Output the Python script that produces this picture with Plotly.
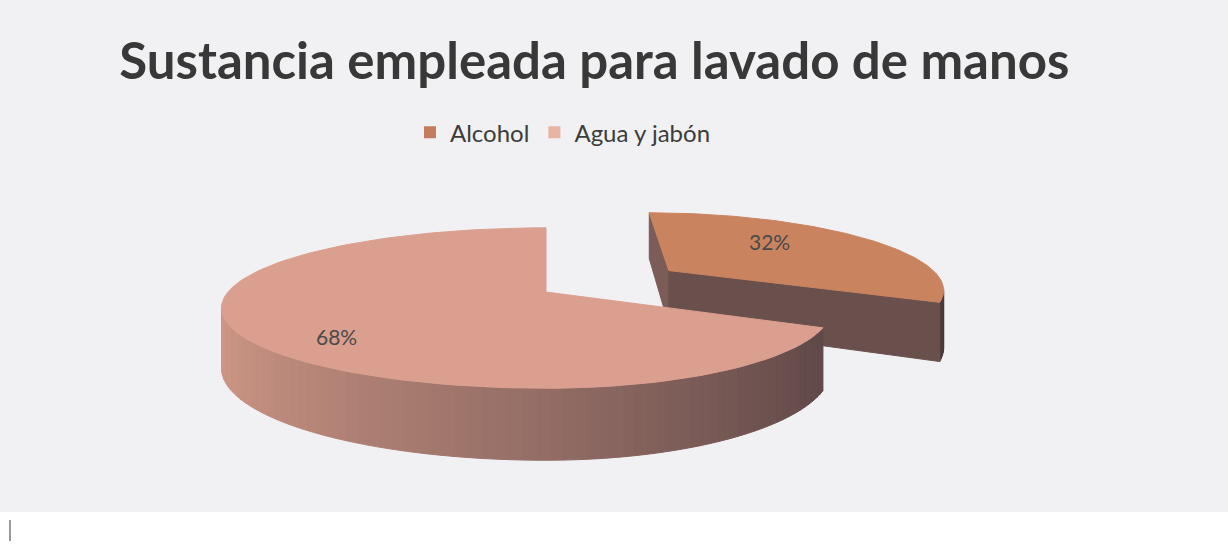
import numpy as np
import plotly.graph_objects as go

# ---- data -------------------------------------------------------------
categories = ["Alcohol", "Agua y jabón"]
percentages = [32, 68]
label_texts = ["32%", "68%"]

# ---- styling ----------------------------------------------------------
top_colors = ["#C9845F", "#DB9F8F"]
legend_colors = ["#C47C5C", "#E8B5A2"]
side_dark = ["#4C3A3A", "#5F4848"]
side_light = ["#7C5D58", "#D69C8A"]
explode = [0.55, 0.0]
label_radius = [0.5, 0.72]
label_shift = [12, -12]

W, H = 1228, 546
CX, CY = 546, 292          # centre of the pie's top face
RX_L, RX_R = 318, 280      # horizontal radius (left / right half)
RY = 77                    # vertical radius of the tilted top face
PERSP = 0.2                # perspective strength
THICK = 57.6               # pie thickness
CAM_Z = -1.0 / PERSP       # camera depth (for back-face culling)
LIGHT = np.radians(290)


def proj(X, Z, bottom=False):
    X = np.asarray(X, dtype=float)
    Z = np.asarray(Z, dtype=float)
    s = 1.0 / (1.0 + PERSP * Z)
    ax = np.where(X < 0, RX_L, RX_R)
    x = CX + ax * X * s
    y = CY - RY * Z * s + (THICK * s if bottom else 0.0)
    return x, y


def hex_to_rgb(h):
    h = h.lstrip("#")
    return np.array([int(h[i:i + 2], 16) for i in (0, 2, 4)], dtype=float)


def shade(i, normal_angle):
    f = (1 + np.cos(normal_angle - LIGHT)) / 2
    f = f ** 0.75
    c = hex_to_rgb(side_dark[i]) * (1 - f) + hex_to_rgb(side_light[i]) * f
    return "rgb(%d,%d,%d)" % tuple(np.round(c))


def poly(fig, xs, ys, color):
    xs = list(xs) + [xs[0]]
    ys = list(ys) + [ys[0]]
    fig.add_trace(go.Scatter(
        x=xs, y=ys, mode="lines", fill="toself", fillcolor=color,
        line=dict(width=1, color=color), hoverinfo="skip", showlegend=False))


fig = go.Figure()

total = float(sum(percentages))
angles = np.cumsum([0] + [p / total * 2 * np.pi for p in percentages])

label_pos = []
for i in range(len(categories)):
    t0, t1 = angles[i], angles[i + 1]
    mid = (t0 + t1) / 2
    dX, dZ = explode[i] * np.sin(mid), explode[i] * np.cos(mid)

    # outer curved wall, split into thin strips for shading
    n = max(8, int(np.degrees(t1 - t0) / 2))
    th = np.linspace(t0, t1, n + 1)
    for a, b in zip(th[:-1], th[1:]):
        m = (a + b) / 2
        vis = -np.sin(m) * (dX + np.sin(m)) + np.cos(m) * (CAM_Z - dZ - np.cos(m))
        if vis <= 0:
            continue
        xa, ya = proj(dX + np.sin([a, b]), dZ + np.cos([a, b]))
        xb, yb = proj(dX + np.sin([b, a]), dZ + np.cos([b, a]), bottom=True)
        poly(fig, np.r_[xa, xb], np.r_[ya, yb], shade(i, m))

    # flat cut faces at both edges of the slice
    for edge, nang in ((t0, t0 - np.pi / 2), (t1, t1 + np.pi / 2)):
        nx, nz = np.sin(nang), np.cos(nang)
        if nx * (0 - dX) + nz * (CAM_Z - dZ) <= 1e-9:
            continue
        X = [dX, dX + np.sin(edge)]
        Z = [dZ, dZ + np.cos(edge)]
        xt, yt = proj(X, Z)
        xb, yb = proj(X[::-1], Z[::-1], bottom=True)
        poly(fig, np.r_[xt, xb], np.r_[yt, yb], shade(i, nang))

    # top face
    tt = np.linspace(t0, t1, 120)
    xs, ys = proj(np.r_[dX, dX + np.sin(tt)], np.r_[dZ, dZ + np.cos(tt)])
    poly(fig, xs, ys, top_colors[i])

    r = label_radius[i]
    lx, ly = proj(dX + r * np.sin(mid), dZ + r * np.cos(mid))
    label_pos.append((float(lx), float(ly)))

for (lx, ly), txt, sh in zip(label_pos, label_texts, label_shift):
    fig.add_annotation(x=lx, y=ly, text=txt, showarrow=False, yshift=sh,
                       font=dict(family="Lato, sans-serif", size=21, color="#4a4a4a"))

# legend entries
for name, col in zip(categories, legend_colors):
    fig.add_trace(go.Scatter(x=[None], y=[None], mode="markers", name=name,
                             marker=dict(symbol="square", size=12, color=col)))

fig.update_layout(
    width=W, height=H,
    margin=dict(l=0, r=0, t=0, b=0),
    paper_bgcolor="#FFFFFF",
    plot_bgcolor="rgba(0,0,0,0)",
    title=dict(text="<b>Sustancia empleada para lavado de manos</b>",
               x=0.484, xanchor="center", y=0.888, yanchor="middle",
               font=dict(family="Lato, sans-serif", size=51, color="#383838")),
    legend=dict(orientation="h", x=410 / W, xanchor="left", y=0.757, yanchor="middle",
                font=dict(family="Lato, sans-serif", size=24, color="#3c3c3c"),
                itemwidth=30, bgcolor="rgba(0,0,0,0)"),
    xaxis=dict(range=[0, W], visible=False, fixedrange=True),
    yaxis=dict(range=[H, 0], visible=False, fixedrange=True),
    shapes=[
        dict(type="rect", xref="x", yref="y", x0=0, x1=W, y0=0, y1=512,
             fillcolor="#F1F1F4", line=dict(width=0), layer="below"),
        dict(type="line", xref="x", yref="y", x0=10, x1=10, y0=520, y1=541,
             line=dict(color="#555555", width=1.2)),
    ],
)

fig.write_html("out.html")
